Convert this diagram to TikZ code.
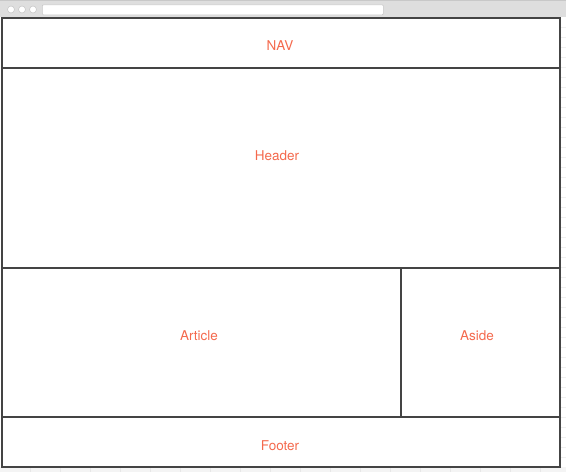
\documentclass[tikz,border=0pt]{standalone}
\usepackage{fontspec}
\setmainfont{TeX Gyre Heros}
\usetikzlibrary{positioning}
\definecolor{labelred}{HTML}{F4694D}
\definecolor{frameline}{HTML}{444444}
\definecolor{chrome}{HTML}{DEDEDE}
\definecolor{chromeline}{HTML}{C8C8C8}
\definecolor{tick}{HTML}{EFEFEF}
\tikzset{
  box/.style = {draw = frameline, line width = 1.6pt, anchor = north west, inner sep = 0pt},
  label text/.style = {text = labelred, font = \fontsize{13.5}{16}\selectfont},
  dot/.style = {circle, fill = white, draw = chromeline, line width = 0.6pt, minimum size = 7pt, inner sep = 0pt}
}

\begin{document}
\begin{tikzpicture}[x = 1pt, y = -1pt]
\useasboundingbox (0,0) rectangle (566,472);
\fill[chrome] (0,0) rectangle (566,17);
\draw[chromeline, line width = 1.2pt] (0,0.6) -- (566,0.6);
\foreach \i/\cx in {1/11, 2/22, 3/33}
  \node[dot] (dot\i) at (\cx,9.5) {};
\node[draw = chromeline, fill = white, line width = 0.6pt, rounded corners = 1pt, anchor = north west,
  minimum width = 341pt, minimum height = 10pt, inner sep = 0pt] (urlbar) at (42,4.5) {};
\fill[tick!70!white] (0,467) rectangle (566,472);
\foreach \tx in {30, 60, ..., 540}
  \draw[tick!60!gray!40!white, line width = 0.6pt] (\tx,467) -- (\tx,472);
\foreach \ty in {27, 37, ..., 457}
  \draw[tick, line width = 0.6pt] (561,\ty) -- (566,\ty);
\node[box, minimum width = 558pt, minimum height = 50pt] (nav) at (1,17) {};
\node[box, minimum width = 558pt, minimum height = 200pt] (header) at (1,67) {};
\node[box, minimum width = 399pt, minimum height = 149pt] (article) at (1,267) {};
\node[box, minimum width = 159pt, minimum height = 149pt] (aside) at (400,267) {};
\node[box, minimum width = 558pt, minimum height = 50pt] (footer) at (1,416) {};
\node[label text] (navlabel) at (280,46) {NAV};
\node[label text] (headerlabel) at (277,156) {Header};
\node[label text] (articlelabel) at (199,336) {Article};
\node[label text] (asidelabel) at (477,336) {Aside};
\node[label text] (footerlabel) at (280,446) {Footer};
\end{tikzpicture}
\end{document}
